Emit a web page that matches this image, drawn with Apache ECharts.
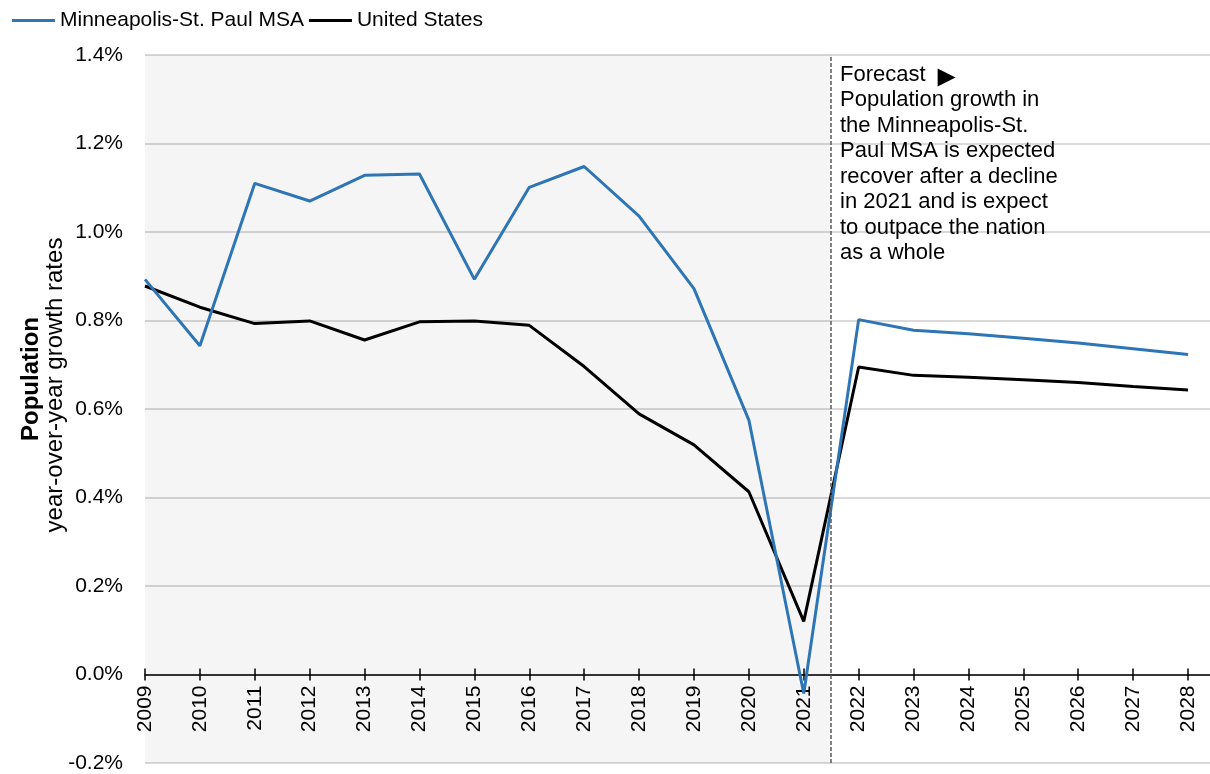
<!DOCTYPE html>
<html>
<head>
<meta charset="utf-8">
<title>Population growth</title>
<script src="https://cdn.jsdelivr.net/npm/echarts@6/dist/echarts.min.js"></script>
<style>
  html, body { margin: 0; padding: 0; background: #fff; }
  #chart { width: 1210px; height: 774px; }
</style>
</head>
<body>
<div id="chart"></div>
<script>
// years shown on the x axis
const years = [2009, 2010, 2011, 2012, 2013, 2014, 2015, 2016, 2017, 2018,
  2019, 2020, 2021, 2022, 2023, 2024, 2025, 2026, 2027, 2028]

// year-over-year growth, percent
const msaGrowth = [0.893, 0.743, 1.110, 1.070, 1.128, 1.131, 0.893, 1.101, 1.148, 1.036,
  0.872, 0.575, -0.043, 0.802, 0.778, 0.770, 0.760, 0.749, 0.736, 0.723]
const usGrowth = [0.878, 0.830, 0.793, 0.799, 0.756, 0.797, 0.799, 0.789, 0.696, 0.589,
  0.519, 0.413, 0.120, 0.695, 0.676, 0.672, 0.666, 0.660, 0.651, 0.643]

const forecastStart = 2021.5
const yMin = -0.2
const yMax = 1.4

const FONT = '"Liberation Sans", Arial, sans-serif'

const GRID_TOP = 55
const GRID_BOTTOM = 11
const CHART_H = 774

const chart = echarts.init(document.getElementById('chart'))

// 系列数据：[年份, 数值]
const toPairs = (vals) => years.map((y, i) => [y, vals[i]])

// x轴放在 0% 的位置：从底边往上平移
const plotH = CHART_H - GRID_TOP - GRID_BOTTOM
const zeroOffset = -plotH * (0 - yMin) / (yMax - yMin)

const baseX = {
  type: 'value',
  min: 2009,
  max: 2028.4,
  interval: 1,
  position: 'bottom',
  offset: zeroOffset,
  splitLine: { show: false }
}

chart.setOption({
  animation: false,
  textStyle: { fontFamily: FONT },
  grid: { left: 145, right: 0, top: GRID_TOP, bottom: GRID_BOTTOM, containLabel: false, outerBoundsMode: 'none' },
  legend: {
    left: 12,
    top: 10,
    padding: 0,
    itemGap: 5,
    itemWidth: 43,
    itemHeight: 3,
    icon: 'rect',
    textStyle: { fontSize: 21, color: '#000', fontFamily: FONT },
    data: ['Minneapolis-St. Paul MSA', 'United States']
  },
  xAxis: [
    Object.assign({}, baseX, {
      axisLine: { onZero: false, lineStyle: { color: '#000', width: 1.5 } },
      axisTick: { show: true, length: 6, customValues: years, lineStyle: { color: '#000', width: 1.5 } },
      axisLabel: {
        customValues: years,
        rotate: 90,
        margin: 11,
        fontSize: 21,
        color: '#000',
        fontFamily: FONT,
        formatter: (v) => String(v)
      }
    }),
    // 第二条轴只画向上的刻度
    Object.assign({}, baseX, {
      axisLine: { show: false, onZero: false },
      axisTick: { show: true, inside: true, length: 6, customValues: years, lineStyle: { color: '#000', width: 1.5 } },
      axisLabel: { show: false }
    })
  ],
  yAxis: {
    type: 'value',
    min: yMin,
    max: yMax,
    interval: 0.2,
    axisLine: { show: false },
    axisTick: { show: false },
    axisLabel: {
      margin: 22,
      fontSize: 21,
      color: '#000',
      fontFamily: FONT,
      formatter: (v) => v.toFixed(1) + '%'
    },
    splitLine: { lineStyle: { color: '#d9d9d9', width: 2 } }
  },
  graphic: [
    {
      type: 'text',
      z: 100,
      x: 31,
      y: 379,
      rotation: Math.PI / 2,
      style: {
        text: 'Population',
        fontSize: 24,
        fontWeight: 'bold',
        fontFamily: FONT,
        fill: '#000',
        align: 'center',
        verticalAlign: 'middle'
      }
    },
    {
      type: 'text',
      z: 100,
      x: 55,
      y: 385,
      rotation: Math.PI / 2,
      style: {
        text: 'year-over-year growth rates',
        fontSize: 24,
        fontFamily: FONT,
        fill: '#000',
        align: 'center',
        verticalAlign: 'middle'
      }
    },
    {
      type: 'text',
      z: 100,
      x: 840,
      y: 62,
      style: {
        text: 'Forecast {a|►}\nPopulation growth in\nthe Minneapolis-St.\nPaul MSA is expected\nrecover after a decline\nin 2021 and is expect\nto outpace the nation\nas a whole',
        fontSize: 22,
        lineHeight: 25.5,
        fontFamily: FONT,
        fill: '#000',
        rich: {
          a: { fontFamily: '"Noto Sans CJK SC"', fontSize: 30, lineHeight: 25.5, fill: '#000' }
        }
      }
    }
  ],
  series: [
    {
      name: 'Minneapolis-St. Paul MSA',
      type: 'line',
      data: toPairs(msaGrowth),
      showSymbol: false,
      symbol: 'none',
      z: 3,
      lineStyle: { color: '#2E75B6', width: 3 },
      itemStyle: { color: '#2E75B6' },
      markArea: {
        silent: true,
        itemStyle: { color: 'rgba(0,0,0,0.04)' },
        data: [[{ xAxis: 2009 }, { xAxis: forecastStart }]]
      },
      markLine: {
        silent: true,
        symbol: 'none',
        label: { show: false },
        lineStyle: { color: '#595959', type: [4, 2], width: 1.5 },
        data: [{ xAxis: forecastStart }]
      }
    },
    {
      name: 'United States',
      type: 'line',
      data: toPairs(usGrowth),
      showSymbol: false,
      symbol: 'none',
      z: 2,
      lineStyle: { color: '#000', width: 3 },
      itemStyle: { color: '#000' }
    }
  ]
})
</script>
</body>
</html>
